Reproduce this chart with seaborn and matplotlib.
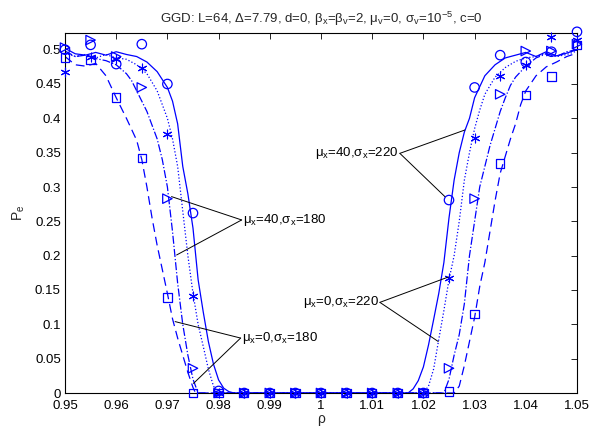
import numpy as np
import pandas as pd
import matplotlib
matplotlib.use("Agg")
import matplotlib.pyplot as plt
import seaborn as sns

# ---------------- data ----------------
# simulation points (markers)
rho_pts = [0.950, 0.955, 0.960, 0.965, 0.970, 0.975, 0.980, 0.985, 0.990, 0.995, 1.000,
           1.005, 1.010, 1.015, 1.020, 1.025, 1.030, 1.035, 1.040, 1.045, 1.050]
pe_circ = [0.500, 0.507, 0.479, 0.508, 0.450, 0.262, 0.003, 0, 0, 0, 0, 0, 0, 0, 0.0,
           0.281, 0.445, 0.492, 0.482, 0.497, 0.526]
pe_star = [0.468, 0.490, 0.487, 0.474, 0.377, 0.141, 0.0, 0, 0, 0, 0, 0, 0, 0, 0.0,
           0.167, 0.372, 0.461, 0.478, 0.519, 0.514]
pe_tri = [0.503, 0.514, 0.490, 0.445, 0.283, 0.036, 0.0, 0, 0, 0, 0, 0, 0, 0, 0.0,
          0.036, 0.283, 0.435, 0.498, 0.498, 0.508]
pe_sq = [0.489, 0.485, 0.430, 0.342, 0.139, 0.0, 0.0, 0, 0, 0, 0, 0, 0, 0, 0.0,
         0.002, 0.115, 0.334, 0.434, 0.461, 0.507]

# theoretical curves
rho_solid = [0.950, 0.952, 0.954, 0.956, 0.958, 0.960, 0.962, 0.964, 0.966, 0.968, 0.970,
             0.971, 0.972, 0.973, 0.974, 0.975, 0.976, 0.977, 0.978, 0.979, 0.980, 0.981,
             0.982, 0.983, 1.017, 1.018, 1.019, 1.020, 1.021, 1.022, 1.023, 1.024, 1.025,
             1.026, 1.027, 1.028, 1.029, 1.030, 1.032, 1.034, 1.036, 1.038, 1.040, 1.042,
             1.044, 1.046, 1.048, 1.050]
pe_solid = [0.502, 0.494, 0.492, 0.496, 0.492, 0.497, 0.493, 0.490, 0.482, 0.468, 0.445,
            0.425, 0.392, 0.330, 0.290, 0.240, 0.165, 0.118, 0.075, 0.042, 0.019, 0.007,
            0.002, 0.0, 0.0, 0.006, 0.018, 0.038, 0.070, 0.107, 0.145, 0.190, 0.255,
            0.310, 0.350, 0.380, 0.400, 0.430, 0.462, 0.478, 0.488, 0.492, 0.496, 0.490,
            0.497, 0.491, 0.495, 0.500]

rho_dot = [0.950, 0.952, 0.954, 0.956, 0.958, 0.960, 0.962, 0.964, 0.966, 0.968, 0.970,
           0.971, 0.972, 0.973, 0.974, 0.975, 0.976, 0.977, 0.978, 0.979, 0.980, 1.020,
           1.021, 1.022, 1.023, 1.024, 1.025, 1.026, 1.027, 1.028, 1.029, 1.030, 1.031,
           1.032, 1.034, 1.036, 1.038, 1.040, 1.042, 1.044, 1.046, 1.048, 1.050]
pe_dot = [0.495, 0.490, 0.493, 0.488, 0.493, 0.488, 0.486, 0.478, 0.465, 0.440, 0.400,
          0.370, 0.330, 0.265, 0.200, 0.145, 0.100, 0.068, 0.035, 0.010, 0.0, 0.0,
          0.010, 0.035, 0.078, 0.120, 0.165, 0.200, 0.250, 0.310, 0.350, 0.385, 0.412,
          0.435, 0.460, 0.474, 0.483, 0.488, 0.490, 0.495, 0.490, 0.493, 0.498]

rho_dashdot = [0.950, 0.952, 0.954, 0.956, 0.958, 0.960, 0.962, 0.963, 0.964, 0.965, 0.966,
               0.967, 0.968, 0.969, 0.970, 0.971, 0.972, 0.973, 0.974, 0.975, 0.976, 1.024,
               1.025, 1.026, 1.027, 1.028, 1.029, 1.030, 1.031, 1.032, 1.033, 1.034, 1.035,
               1.036, 1.037, 1.038, 1.040, 1.042, 1.044, 1.046, 1.048, 1.050]
pe_dashdot = [0.498, 0.490, 0.492, 0.487, 0.484, 0.478, 0.465, 0.455, 0.440, 0.425, 0.410,
              0.390, 0.370, 0.340, 0.300, 0.235, 0.160, 0.100, 0.055, 0.020, 0.0, 0.0,
              0.020, 0.055, 0.085, 0.130, 0.200, 0.250, 0.300, 0.330, 0.360, 0.385, 0.410,
              0.430, 0.448, 0.460, 0.476, 0.488, 0.494, 0.490, 0.497, 0.500]

rho_dash = [0.950, 0.952, 0.954, 0.956, 0.958, 0.960, 0.962, 0.964, 0.965, 0.966, 0.967,
            0.968, 0.969, 0.970, 0.971, 0.972, 0.973, 0.974, 0.975, 0.9755, 1.026, 1.027,
            1.028, 1.029, 1.030, 1.031, 1.032, 1.033, 1.034, 1.035, 1.036, 1.037, 1.038,
            1.039, 1.040, 1.042, 1.044, 1.046, 1.048, 1.050]
pe_dash = [0.490, 0.478, 0.476, 0.480, 0.462, 0.430, 0.400, 0.368, 0.340, 0.300, 0.255,
           0.215, 0.180, 0.145, 0.108, 0.080, 0.055, 0.030, 0.008, 0.0, 0.0, 0.010,
           0.040, 0.075, 0.110, 0.155, 0.190, 0.235, 0.280, 0.320, 0.345, 0.370, 0.392,
           0.420, 0.440, 0.462, 0.475, 0.482, 0.490, 0.495]

labels = ["μ$_x$=40,σ$_x$=220", "μ$_x$=0,σ$_x$=220",
          "μ$_x$=40,σ$_x$=180", "μ$_x$=0,σ$_x$=180"]
title = "GGD: L=64, Δ=7.79, d=0, β$_x$=β$_v$=2, μ$_v$=0, σ$_v$=10$^{-5}$, c=0"
xticks = [0.95, 0.96, 0.97, 0.98, 0.99, 1.00, 1.01, 1.02, 1.03, 1.04, 1.05]
xticklabels = ["0.95", "0.96", "0.97", "0.98", "0.99", "1", "1.01", "1.02", "1.03", "1.04", "1.05"]
yticks = [0, 0.05, 0.1, 0.15, 0.2, 0.25, 0.3, 0.35, 0.4, 0.45, 0.5]
yticklabels = ["0", "0.05", "0.1", "0.15", "0.2", "0.25", "0.3", "0.35", "0.4", "0.45", "0.5"]

# ---------------- style ----------------
sns.set_style("white")
plt.rcParams["font.family"] = ["Liberation Sans", "DejaVu Sans"]
plt.rcParams["mathtext.fontset"] = "custom"
plt.rcParams["mathtext.rm"] = "Liberation Sans"
plt.rcParams["mathtext.it"] = "Liberation Sans"
plt.rcParams["mathtext.default"] = "regular"

W, H = 589, 432
fig = plt.figure(figsize=(W / 100, H / 100), dpi=100)
ax = fig.add_axes([65 / W, 39 / H, 512 / W, 360.5 / H])

blue = "#0000ff"
lw = 0.9
curves = [(rho_solid, pe_solid, "-"), (rho_dot, pe_dot, ":"),
          (rho_dashdot, pe_dashdot, "-."), (rho_dash, pe_dash, (0, (7, 4)))]
for xs, ys, ls in curves:
    df = pd.DataFrame({"rho": xs, "pe": ys})
    sns.lineplot(data=df, x="rho", y="pe", ax=ax, color=blue, linewidth=lw,
                 linestyle=ls, sort=False, estimator=None, legend=False)

marks = [(pe_circ, "o", 46, False), (pe_star, (6, 2, 0), 40, True),
         (pe_tri, ">", 46, False), (pe_sq, "s", 38, False)]
for ys, m, s, is_line in marks:
    df = pd.DataFrame({"rho": rho_pts, "pe": ys})
    if is_line:
        sns.scatterplot(data=df, x="rho", y="pe", ax=ax, marker=m, s=s,
                        color=blue, linewidth=0.8, clip_on=False, legend=False, zorder=3)
    else:
        sns.scatterplot(data=df, x="rho", y="pe", ax=ax, marker=m, s=s,
                        facecolor="none", edgecolor=blue, linewidth=0.9,
                        clip_on=False, legend=False, zorder=3)

ax.set_xlim(0.95, 1.05)
ax.set_ylim(0, 0.525)
ax.set_xticks(xticks)
ax.set_xticklabels(xticklabels)
ax.set_yticks(yticks)
ax.set_yticklabels(yticklabels)
ax.tick_params(direction="in", length=4, width=0.6, top=True, right=True,
               labelsize=9.5, colors="black")
ax.tick_params(axis="x", pad=5)
ax.tick_params(axis="y", pad=3)
for sp in ax.spines.values():
    sp.set_visible(True)
    sp.set_color("black")
    sp.set_linewidth(0.8)

ax.set_xlabel("ρ", fontsize=10, labelpad=0)
ax.set_ylabel("P$_e$", fontsize=10, labelpad=6)
ax.set_title(title, fontsize=9.5, pad=7)

# annotations (label text, anchor, targets)
annots = [
    (labels[2], (0.9845, 0.252), [(0.9708, 0.286), (0.9718, 0.201)], "left"),
    (labels[3], (0.9843, 0.080), [(0.9715, 0.104), (0.9751, 0.014)], "left"),
    (labels[0], (1.0154, 0.349), [(1.0281, 0.383), (1.0242, 0.286)], "right"),
    (labels[1], (1.0115, 0.132), [(1.0249, 0.169), (1.0229, 0.075)], "right"),
]
for text, anchor, targets, ha in annots:
    for tx, ty in targets:
        ax.plot([anchor[0], tx], [anchor[1], ty], color="black", linewidth=0.7, zorder=4)
    dx = 0.0002 if ha == "left" else -0.0002
    ax.text(anchor[0] + dx, anchor[1], text, ha=ha, va="center", fontsize=9.5,
            color="black", zorder=5)

fig.savefig("out.png", dpi=100)
